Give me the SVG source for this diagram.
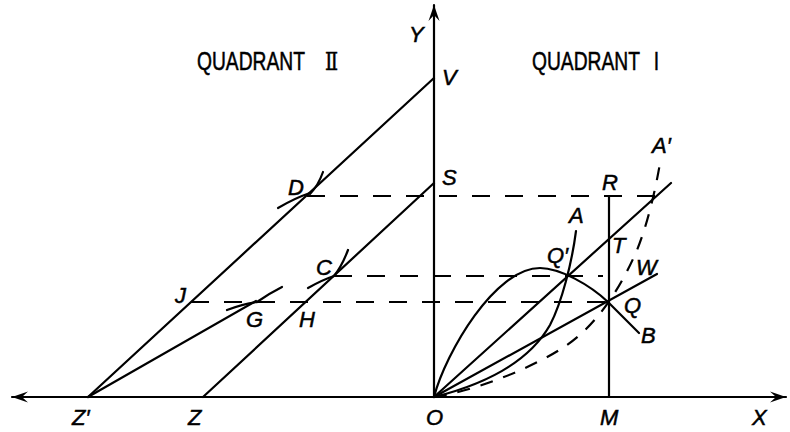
<svg xmlns="http://www.w3.org/2000/svg" width="790" height="432" viewBox="0 0 790 432">
<style>
.ln{stroke:#000;stroke-width:2.2;fill:none;stroke-linecap:round}
.ds{stroke:#000;stroke-width:2.2;fill:none;stroke-dasharray:18 15}
.dc{stroke:#000;stroke-width:2.2;fill:none;stroke-dasharray:13 11}
.lb{font-family:"Liberation Sans",Arial,sans-serif;font-style:italic;font-size:22px;fill:#000;stroke:#000;stroke-width:0.5}
.qt{font-family:"Liberation Sans",Arial,sans-serif;font-size:25px;fill:#000;stroke:#000;stroke-width:0.5}
</style>
<defs>
<marker id="arr" markerUnits="userSpaceOnUse" markerWidth="20" markerHeight="14" viewBox="-16 -7 20 14" refX="0" refY="0" orient="auto-start-reverse">
<path d="M0,0 L-16,-5.5 L-10,0 L-16,5.5 Z" fill="#000"/>
</marker>
</defs>
<rect width="790" height="432" fill="#fff"/>
<g id="connectors">
<line id="x-axis" class="ln" x1="12" y1="397" x2="786" y2="397" marker-start="url(#arr)" marker-end="url(#arr)"/>
<line id="y-axis" class="ln" x1="434" y1="397" x2="434" y2="5" marker-end="url(#arr)"/>
<line class="ln" x1="88" y1="397" x2="434" y2="78"/>
<line class="ln" x1="203" y1="397" x2="434" y2="183"/>
<line class="ln" x1="88" y1="397" x2="256" y2="301"/>
<line class="ln" x1="434" y1="397" x2="671" y2="183"/>
<line class="ln" x1="434" y1="397" x2="657" y2="274"/>
<line class="ln" x1="609" y1="397" x2="609" y2="196"/>
<line class="ds" x1="307" y1="196" x2="657" y2="196"/>
<line class="ds" x1="334" y1="276" x2="603" y2="276"/>
<line class="ds" x1="191" y1="302" x2="608" y2="302"/>
<path class="ln" d="M434,397 C446,352 495,268 540,268 C560,268 590,285 608,302 L639,333"/>
<path class="ln" d="M434,397 C490,383 530,360 550,325 C562,302 572,262 576,231"/>
<path class="dc" d="M434,397 C470,392 530,370 567,345 C595,326 620,290 637,250 C645,231 655,195 661,157"/>
<path class="ln" d="M278,208 Q295,198 310,193 M310,194 Q318,186 323,172"/>
<path class="ln" d="M308,288 Q322,280 334,276 M334,276 Q342,266 348,250"/>
<path class="ln" d="M227,310 Q243,304 257,302 M257,302 Q270,293 282,287"/>
</g>
<g id="quadrant-2"><text class="qt" transform="translate(197,70) scale(0.77,1)">QUADRANT<tspan dx="26" font-family="DejaVu Serif,Liberation Serif,serif">Ⅱ</tspan></text></g>
<g id="quadrant-1"><text class="qt" transform="translate(532,70) scale(0.77,1)">QUADRANT<tspan dx="18">I</tspan></text></g>
<g id="label-Y"><text class="lb" x="409" y="42">Y</text></g>
<g id="label-V"><text class="lb" x="442" y="85">V</text></g>
<g id="label-S"><text class="lb" x="442" y="185">S</text></g>
<g id="label-D"><text class="lb" x="288" y="195">D</text></g>
<g id="label-C"><text class="lb" x="316" y="275">C</text></g>
<g id="label-J"><text class="lb" x="175" y="303">J</text></g>
<g id="label-G"><text class="lb" x="246" y="327">G</text></g>
<g id="label-H"><text class="lb" x="299" y="327">H</text></g>
<g id="label-Zp"><text class="lb" x="72" y="425">Z′</text></g>
<g id="label-Z"><text class="lb" x="188" y="425">Z</text></g>
<g id="label-O"><text class="lb" x="426" y="425">O</text></g>
<g id="label-M"><text class="lb" x="600" y="425">M</text></g>
<g id="label-X"><text class="lb" x="752" y="425">X</text></g>
<g id="label-R"><text class="lb" x="602" y="190">R</text></g>
<g id="label-Ap"><text class="lb" x="652" y="153">A′</text></g>
<g id="label-A"><text class="lb" x="569" y="223">A</text></g>
<g id="label-Qp"><text class="lb" x="547" y="263">Q′</text></g>
<g id="label-T"><text class="lb" x="612" y="253">T</text></g>
<g id="label-W"><text class="lb" x="636" y="275">W</text></g>
<g id="label-Q"><text class="lb" x="624" y="313">Q</text></g>
<g id="label-B"><text class="lb" x="641" y="343">B</text></g>
</svg>
